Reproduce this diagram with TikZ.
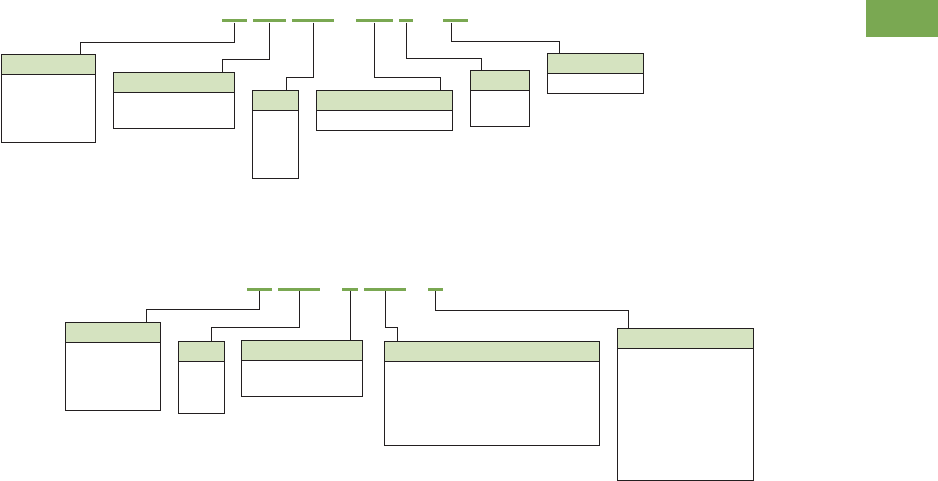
\documentclass[tikz,border=0pt]{standalone}
\usepackage{tikz}
\usetikzlibrary{positioning, calc}
\usepackage{xcolor}
\definecolor{fieldgreen}{HTML}{7AA852}
\definecolor{headfill}{HTML}{D5E3C0}
\definecolor{edgeblack}{HTML}{231F20}

\begin{document}
\begin{tikzpicture}[
  x=1pt, y=-1pt,
  fieldbar/.style={
    fill=fieldgreen, draw=none, inner sep=0pt, minimum height=3pt
  },
  tbl/.style={
    draw=edgeblack, line width=1pt, fill=white, inner sep=0pt, anchor=north west,
    path picture={
      \fill[headfill] (path picture bounding box.north west)
        rectangle ([yshift=-20pt]path picture bounding box.north east);
      \draw[edgeblack, line width=1pt]
        ([yshift=-20pt]path picture bounding box.north west)
        -- ([yshift=-20pt]path picture bounding box.north east);
    }
  },
  link/.style={draw=edgeblack, line width=1pt}
]
  \path[use as bounding box] (0,0) rectangle (938,481);

  % Corner tab
  \node[fill=fieldgreen, inner sep=0pt, minimum width=72pt, minimum height=37pt,
        anchor=north west] (tab) at (866,0) {};

  % Upper field bars
  \node[fieldbar, minimum width=25pt] (t1) at (234.5,21) {};
  \node[fieldbar, minimum width=33pt] (t2) at (269.5,21) {};
  \node[fieldbar, minimum width=42pt] (t3) at (313,21) {};
  \node[fieldbar, minimum width=37pt] (t4) at (374.5,21) {};
  \node[fieldbar, minimum width=14pt] (t5) at (406,21) {};
  \node[fieldbar, minimum width=25pt] (t6) at (455.5,21) {};

  % Upper boxes
  \node[tbl, minimum width=94.3pt, minimum height=88pt] (b1) at (1,54.3) {};
  \node[tbl, minimum width=121pt, minimum height=56pt] (b2) at (113.3,72.3) {};
  \node[tbl, minimum width=46pt, minimum height=88pt] (b3) at (252.3,90.3) {};
  \node[tbl, minimum width=136pt, minimum height=40pt] (b4) at (316.3,90.3) {};
  \node[tbl, minimum width=59.6pt, minimum height=56pt] (b5) at (469.7,70.3) {};
  \node[tbl, minimum width=96pt, minimum height=40pt] (b6) at (547.3,53.3) {};

  % Upper links
  \draw[link] (t1.south) -- ++(0,19.8) -| ([xshift=79.3pt]b1.north west);
  \draw[link] (t2.south) -- ++(0,36.8) -| ([xshift=109pt]b2.north west);
  \draw[link] (t3.south) -- ++(0,54.8) -| ([xshift=34pt]b3.north west);
  \draw[link] (t4.south) -- ++(0,54.8) -| ([xshift=124pt]b4.north west);
  \draw[link] (t5.south) -- ++(0,35.8) -| ([xshift=12pt]b5.north west);
  \draw[link] ([xshift=-4pt]t6.south) -- ++(0,18.8) -| ([xshift=12pt]b6.north west);

  % Lower field bars
  \node[fieldbar, minimum width=25pt] (d1) at (259.5,289.3) {};
  \node[fieldbar, minimum width=42pt] (d2) at (299,289.3) {};
  \node[fieldbar, minimum width=16pt] (d3) at (350,289.3) {};
  \node[fieldbar, minimum width=42pt] (d4) at (385,289.3) {};
  \node[fieldbar, minimum width=15pt] (d5) at (435.5,289.3) {};

  % Lower boxes
  \node[tbl, minimum width=95pt, minimum height=88pt] (c1) at (65.3,322.3) {};
  \node[tbl, minimum width=46pt, minimum height=72pt] (c2) at (178.3,341.3) {};
  \node[tbl, minimum width=121pt, minimum height=56pt] (c3) at (241.3,340.3) {};
  \node[tbl, minimum width=214.7pt, minimum height=104pt] (c4) at (384.3,341.3) {};
  \node[tbl, minimum width=136pt, minimum height=152pt] (c5) at (617.3,328.3) {};

  % Lower links
  \draw[link] (d1.south) -- ++(0,18.5) -| ([xshift=81pt]c1.north west);
  \draw[link] (d2.south) -- ++(0,36.5) -| ([xshift=33pt]c2.north west);
  \draw[link] (d3.south) -- (d3.south |- c3.north);
  \draw[link] (d4.south) -- ++(0,36.5) -| ([xshift=13pt]c4.north west);
  \draw[link] (d5.south) -- ++(0,19.5) -| ([xshift=11pt]c5.north west);
\end{tikzpicture}
\end{document}
